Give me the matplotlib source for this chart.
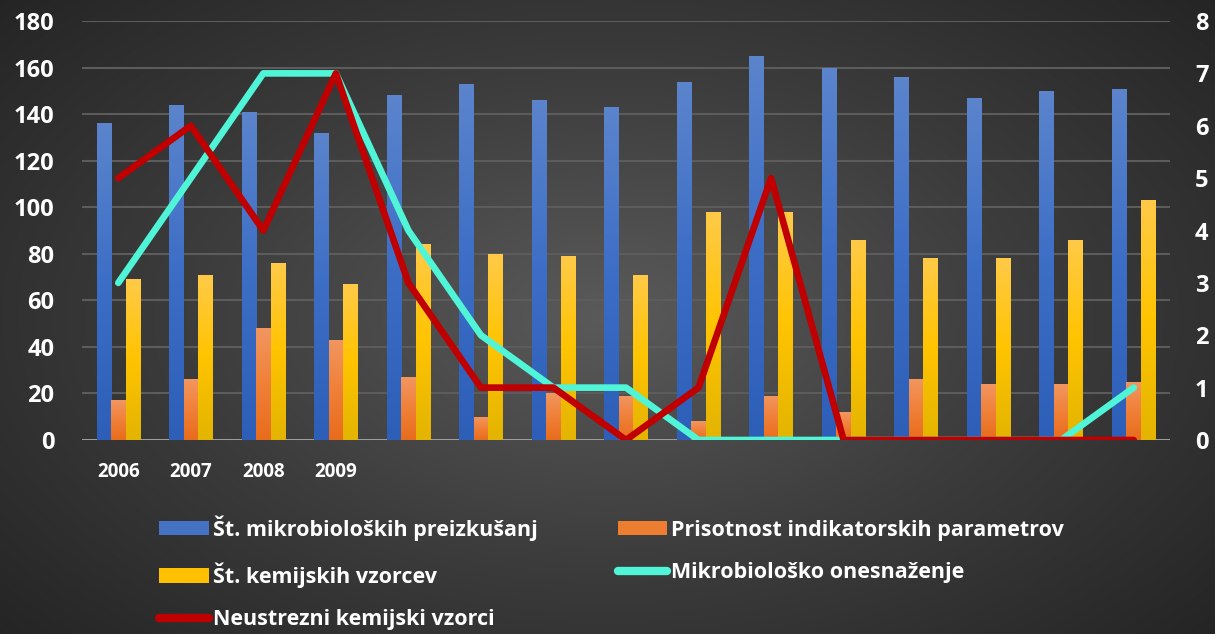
import numpy as np
import matplotlib
matplotlib.use("Agg")
import matplotlib.pyplot as plt
from matplotlib.colors import LinearSegmentedColormap
from matplotlib.lines import Line2D
from matplotlib.patches import Patch

plt.rcParams['font.family'] = ['Open Sans', 'DejaVu Sans']
plt.rcParams['font.weight'] = 'bold'

years = ['2006', '2007', '2008', '2009'] + [''] * 11
mikro_preizkusanja = [136, 144, 141, 132, 148, 153, 146, 143, 154, 165, 160, 156, 147, 150, 151]
indikatorski = [17, 26, 48, 43, 27, 10, 20, 19, 8, 19, 12, 26, 24, 24, 25]
kemijski_vzorci = [69, 71, 76, 67, 84, 80, 79, 71, 98, 98, 86, 78, 78, 86, 103]
mikro_onesnazenje = [3, 5, 7, 7, 4, 2, 1, 1, 0, 0, 0, 0, 0, 0, 1]
neustrezni = [5, 6, 4, 7, 3, 1, 1, 0, 1, 5, 0, 0, 0, 0, 0]

labels = ['Št. mikrobioloških preizkušanj', 'Prisotnost indikatorskih parametrov',
          'Št. kemijskih vzorcev', 'Mikrobiološko onesnaženje', 'Neustrezni kemijski vzorci']

fig = plt.figure(figsize=(12.15, 6.34), dpi=100)

# radial dark background
bg = fig.add_axes([0, 0, 1, 1], zorder=-10)
yy, xx = np.mgrid[-1:1:300j, -1:1:600j]
r = np.sqrt((xx * 0.9) ** 2 + (yy * 0.8) ** 2)
bg.imshow(r, cmap=LinearSegmentedColormap.from_list('bg', ['#5a5a5a', '#3c3c3c', '#232323']),
          extent=[0, 1, 0, 1], aspect='auto', vmin=0, vmax=1.25)
bg.axis('off')

ax = fig.add_axes([82 / 1215, 1 - 440 / 634, 1088 / 1215, 419 / 634])
ax.set_facecolor('none')

x = np.arange(len(years))
w = 0.2
grads = [
    ['#2e5fb8', '#3d6ec6', '#5b84cc'],
    ['#e86c1c', '#f08038', '#f29660'],
    ['#e3b400', '#ffc400', '#ffca48'],
]
series = [mikro_preizkusanja, indikatorski, kemijski_vzorci]
base = ['#4472c4', '#ed7d31', '#ffc000']
for k, vals in enumerate(series):
    bars = ax.bar(x + (k - 1) * w, vals, w, color=base[k], zorder=2)
    cmap = LinearSegmentedColormap.from_list(f'g{k}', grads[k])
    g = np.linspace(0, 1, 100).reshape(-1, 1)
    for p in bars:
        x0, h = p.get_x(), p.get_height()
        im = ax.imshow(g, cmap=cmap, origin='lower', aspect='auto',
                       extent=[x0, x0 + p.get_width(), 0, h], zorder=2.1)
        im.set_clip_path(p)

ax.set_xlim(-0.5, len(years) - 0.5)
ax.set_ylim(0, 180)
ax.set_yticks(range(0, 181, 20))
ax.set_xticks(x)
ax.set_xticklabels(years)
ax.yaxis.grid(True, color='#5c5c5c', linewidth=1.5, zorder=0)
ax.set_axisbelow(True)
ax.axhline(0, color='#a6a6a6', linewidth=2, zorder=1.5)
for s in ax.spines.values():
    s.set_visible(False)
ax.tick_params(axis='y', length=0, pad=20, labelsize=17, labelcolor='white')
ax.tick_params(axis='x', length=0, pad=16, labelsize=13.5, labelcolor='white')

ax2 = ax.twinx()
ax2.plot(x, mikro_onesnazenje, color='#50f5d8', linewidth=4.8, solid_capstyle='round', zorder=3)
ax2.plot(x, neustrezni, color='#c00000', linewidth=4.8, solid_capstyle='round', zorder=4)
ax2.set_ylim(0, 8)
ax2.set_yticks(range(0, 9))
for s in ax2.spines.values():
    s.set_visible(False)
ax2.tick_params(axis='y', length=0, pad=18, labelsize=17, labelcolor='white')

handles = [
    Patch(facecolor=base[0]), Patch(facecolor=base[1]), Patch(facecolor=base[2]),
    Line2D([], [], color='#50f5d8', linewidth=6, solid_capstyle='round'),
    Line2D([], [], color='#c00000', linewidth=6, solid_capstyle='round'),
]
order = [0, 2, 4, 1, 3]
leg = fig.legend([handles[i] for i in order], [labels[i] for i in order],
                 loc='upper left', bbox_to_anchor=(140 / 1215, 1 - 496 / 634), ncol=2,
                 frameon=False, fontsize=15.5, handlelength=2.3, handleheight=0.65,
                 handletextpad=0.2, labelspacing=1.0, columnspacing=3.7)
for t in leg.get_texts():
    t.set_color('white')

fig.savefig('out.png', dpi=100)
